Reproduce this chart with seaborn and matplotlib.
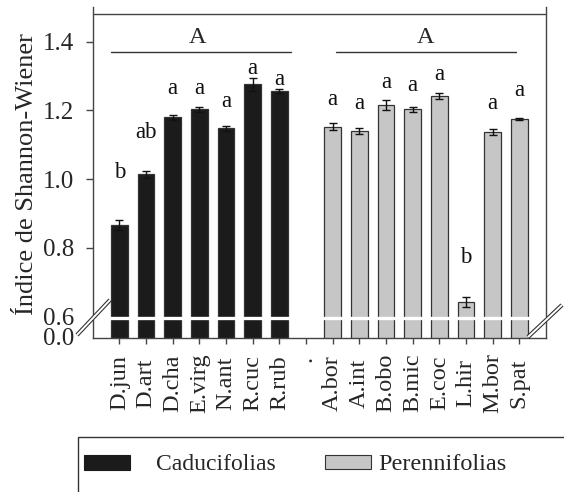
import matplotlib
matplotlib.use("Agg")
import matplotlib.pyplot as plt
import seaborn as sns
import pandas as pd
import numpy as np
from matplotlib.lines import Line2D
from matplotlib.patches import Patch, Rectangle
from matplotlib.transforms import ScaledTranslation

# ---------------- data ----------------
species_cad = ["D.jun", "D.art", "D.cha", "E.virg", "N.ant", "R.cuc", "R.rub"]
means_cad = [0.866, 1.014, 1.180, 1.203, 1.148, 1.276, 1.257]
errs_cad = [0.015, 0.010, 0.008, 0.008, 0.007, 0.018, 0.006]
letters_cad = ["b", "ab", "a", "a", "a", "a", "a"]

species_per = ["A.bor", "A.int", "B.obo", "B.mic", "E.coc", "L.hir", "M.bor", "S.pat"]
means_per = [1.153, 1.141, 1.216, 1.203, 1.242, 0.642, 1.138, 1.175]
errs_per = [0.010, 0.009, 0.015, 0.006, 0.009, 0.015, 0.009, 0.004]
letters_per = ["a", "a", "a", "a", "a", "b", "a", "a"]

gap_label = "."
groups = ["Caducifolias", "Perennifolias"]
group_letters = ["A", "A"]
y_ticks = [0.8, 1.0, 1.2, 1.4]
y_label = "Índice de Shannon-Wiener"

# annotation heights (baseline of letters)
letter_y_cad = [1.003, 1.120, 1.248, 1.248, 1.210, 1.307, 1.274]
letter_y_per = [1.216, 1.204, 1.266, 1.257, 1.289, 0.756, 1.204, 1.242]

# ---------------- setup ----------------
sns.set_theme(style="white")
plt.rcParams["font.family"] = ["Liberation Serif", "DejaVu Serif"]

W, H = 564, 492
fig = plt.figure(figsize=(W / 100, H / 100), dpi=100)
ax = fig.add_axes([93 / W, 1 - 338 / H, (546 - 93) / W, (338 - 7) / H])

order = species_cad + [gap_label] + species_per
df = pd.DataFrame({
    "species": species_cad + species_per,
    "value": means_cad + means_per,
    "group": [groups[0]] * len(species_cad) + [groups[1]] * len(species_per),
})
black = "#1b1b1b"
gray = "#c6c6c6"
sns.barplot(data=df, x="species", y="value", hue="group", order=order,
            hue_order=groups, palette=[black, gray], dodge=False, width=0.63,
            errorbar=None, edgecolor="#333333", linewidth=0.9, legend=False,
            ax=ax, zorder=2)

pos = [order.index(s) for s in df["species"]]
ax.errorbar(pos, df["value"], yerr=errs_cad + errs_per, fmt="none",
            ecolor="#111111", elinewidth=1.0, capsize=3.2, capthick=1.0, zorder=3)

# limits (broken axis: lower part compressed)
y_bot, y_top = 0.536, 1.502
ax.set_ylim(y_bot, y_top)
ax.set_xlim(-0.986, 16.0)

zero_pos = 0.539
ax.set_yticks([zero_pos, 0.6] + y_ticks)
ax.set_yticklabels(["0.0", "0.6"] + [f"{v:.1f}" for v in y_ticks], fontsize=18)
ax.tick_params(axis="y", direction="out", length=5.2, width=1, color="#444444",
               pad=8.5, left=True)
ticks = ax.yaxis.get_major_ticks()
ticks[0].tick1line.set_visible(False)
ticks[1].tick1line.set_visible(False)

ax.set_xticks(range(len(order)))
ax.set_xticklabels(order, rotation=90, va="center", ha="center", fontsize=17.5)
ax.tick_params(axis="x", direction="out", length=4.3, width=1, color="#444444",
               pad=28, bottom=True)
# the '.' label sits higher
lab = ax.get_xticklabels()[order.index(gap_label)]
lab.set_va("top")
lab.set_transform(lab.get_transform() + ScaledTranslation(0, 0.27, fig.dpi_scale_trans))

ax.set_xlabel("")
ax.set_ylabel(y_label, fontsize=19)
ax.yaxis.set_label_coords(-0.122, 0.494)

for side in ["left", "right", "bottom"]:
    ax.spines[side].set_color("#444444")
    ax.spines[side].set_linewidth(1.0)
ax.spines["top"].set_visible(False)
ax.axhline(1.482, color="#444444", lw=1.0, zorder=1)

# white break band across the bars
ax.axhline(0.594, xmin=0.003, xmax=0.997, color="white", lw=2.4, zorder=4)

# letters above bars
for i, (s, t) in enumerate(zip(species_cad, letters_cad)):
    ax.text(order.index(s), letter_y_cad[i], t, ha="center", va="baseline",
            fontsize=16.5, color="#111111")
for i, (s, t) in enumerate(zip(species_per, letters_per)):
    ax.text(order.index(s), letter_y_per[i], t, ha="center", va="baseline",
            fontsize=16.5, color="#111111")

# group lines and letters
ax.plot([-0.31, 6.44], [1.371, 1.371], color="#333333", lw=1.0)
ax.plot([8.12, 14.87], [1.371, 1.371], color="#333333", lw=1.0)
ax.text(2.95, 1.398, group_letters[0], ha="center", va="baseline", fontsize=17.5)
ax.text(11.5, 1.398, group_letters[1], ha="center", va="baseline", fontsize=17.5)

# break marks (figure pixel coords)
def brk(x0, y0, x1, y1):
    xs = [x0 / W, x1 / W]
    ys = [1 - y0 / H, 1 - y1 / H]
    fig.add_artist(Line2D(xs, ys, color="#333333", lw=3.0, solid_capstyle="butt", zorder=10))
    fig.add_artist(Line2D(xs, ys, color="white", lw=1.4, solid_capstyle="butt", zorder=11))

brk(77, 335, 110, 300)
brk(528, 337, 562, 305)

# legend box and entries
fig.add_artist(Rectangle((78 / W, -0.05), 1.0, (1 - 437 / H) + 0.05,
                         transform=fig.transFigure, fill=False,
                         edgecolor="#333333", lw=1.0, clip_on=False))
h1 = Patch(facecolor=black, edgecolor=black, lw=0.8)
h2 = Patch(facecolor=gray, edgecolor="#333333", lw=0.8)
fig.legend([h1], [groups[0]], loc="center left", bbox_to_anchor=(84 / W, 1 - 465 / H),
           frameon=False, fontsize=17, handlelength=1.95, handleheight=0.62,
           handletextpad=1.1, borderpad=0, borderaxespad=0)
fig.legend([h2], [groups[1]], loc="center left", bbox_to_anchor=(325 / W, 1 - 465 / H),
           frameon=False, fontsize=17.5, handlelength=1.9, handleheight=0.56,
           handletextpad=0.3, borderpad=0, borderaxespad=0)

fig.savefig("out.png", dpi=100)
